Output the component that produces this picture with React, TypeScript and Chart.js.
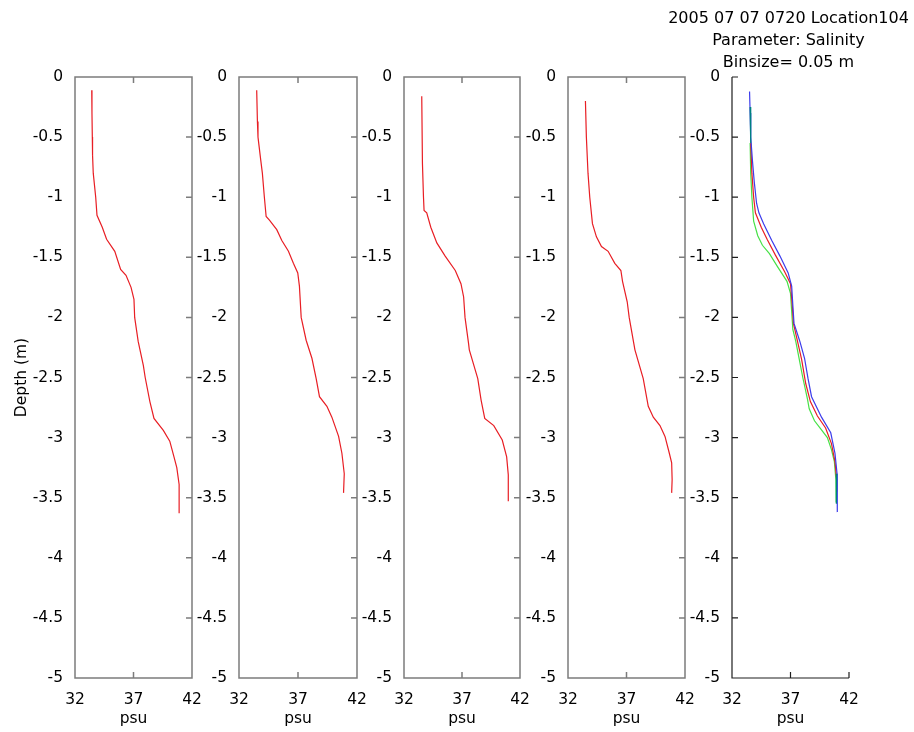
import React, { useEffect, useRef } from "react";
import { Chart, registerables } from "chart.js";

Chart.register(...registerables);

// ---------- DATA ----------
const xTicks = [32, 37, 42];
const titleLines = ["2005 07 07 0720 Location104", "Parameter: Salinity", "Binsize= 0.05 m"];
const xLabel = "psu";
const yLabel = "Depth (m)";

// Cast 1
const cast1Depth = [-0.11, -0.3, -0.5, -0.65, -0.8, -1.0, -1.15, -1.25, -1.35, -1.45, -1.6, -1.65, -1.75, -1.85, -2.0, -2.2, -2.4, -2.5, -2.7, -2.84, -2.94, -3.03, -3.16, -3.25, -3.39, -3.63];
const cast1Psu = [33.43, 33.45, 33.48, 33.5, 33.56, 33.77, 33.88, 34.33, 34.7, 35.4, 35.9, 36.36, 36.79, 37.04, 37.1, 37.4, 37.84, 38.0, 38.4, 38.75, 39.55, 40.1, 40.46, 40.7, 40.9, 40.9];

// Cast 2
const cast2Depth = [-0.11, -0.37, -0.5, -0.69, -0.8, -1.0, -1.16, -1.19, -1.27, -1.36, -1.45, -1.55, -1.63, -1.74, -2.0, -2.19, -2.34, -2.51, -2.66, -2.74, -2.83, -2.99, -3.13, -3.3, -3.46];
const cast2Psu = [33.5, 33.56, 33.61, 33.84, 33.98, 34.15, 34.3, 34.58, 35.2, 35.63, 36.19, 36.61, 36.98, 37.12, 37.27, 37.69, 38.18, 38.54, 38.82, 39.45, 39.87, 40.44, 40.72, 40.92, 40.86];

// Cast 3
const cast3Depth = [-0.16, -0.72, -1.0, -1.11, -1.13, -1.25, -1.38, -1.49, -1.61, -1.72, -1.83, -2.0, -2.22, -2.27, -2.51, -2.69, -2.84, -2.9, -3.02, -3.16, -3.31, -3.53];
const cast3Psu = [33.53, 33.59, 33.68, 33.73, 33.96, 34.31, 34.83, 35.55, 36.42, 36.91, 37.14, 37.26, 37.57, 37.63, 38.36, 38.65, 38.96, 39.74, 40.47, 40.85, 40.99, 40.99];

// Cast 4
const cast4Depth = [-0.2, -0.5, -0.8, -1.0, -1.22, -1.33, -1.41, -1.45, -1.55, -1.61, -1.7, -1.87, -2.0, -2.22, -2.27, -2.51, -2.74, -2.83, -2.9, -2.99, -3.13, -3.21, -3.35, -3.46];
const cast4Psu = [33.49, 33.57, 33.71, 33.86, 34.09, 34.43, 34.86, 35.43, 36.0, 36.52, 36.66, 37.06, 37.23, 37.63, 37.72, 38.43, 38.86, 39.29, 39.86, 40.29, 40.66, 40.86, 40.9, 40.86];

// Overlay panel
const blueDepth = [-0.12, -0.3, -0.5, -0.7, -0.87, -1.05, -1.13, -1.22, -1.36, -1.49, -1.63, -1.74, -1.9, -2.05, -2.2, -2.34, -2.51, -2.66, -2.83, -2.96, -3.13, -3.3, -3.62];
const bluePsu = [33.5, 33.55, 33.6, 33.75, 33.9, 34.1, 34.3, 34.7, 35.4, 36.1, 36.8, 37.1, 37.2, 37.3, 37.8, 38.2, 38.5, 38.8, 39.65, 40.44, 40.8, 40.98, 41.0];

const redDepth = [-0.55, -0.8, -1.0, -1.13, -1.25, -1.35, -1.48, -1.62, -1.72, -1.9, -2.05, -2.2, -2.35, -2.55, -2.7, -2.82, -2.92, -3.05, -3.2, -3.35, -3.45];
const redPsu = [33.6, 33.7, 33.85, 34.0, 34.5, 35.0, 35.7, 36.5, 37.0, 37.15, 37.25, 37.6, 37.95, 38.3, 38.7, 39.3, 40.0, 40.5, 40.8, 40.95, 40.95];

const greenDepth = [-0.55, -0.8, -1.0, -1.2, -1.32, -1.4, -1.47, -1.58, -1.7, -1.8, -1.95, -2.1, -2.2, -2.35, -2.5, -2.68, -2.76, -2.86, -2.93, -3.0, -3.1, -3.2, -3.35, -3.54];
const greenPsu = [33.55, 33.6, 33.7, 33.85, 34.2, 34.6, 35.2, 35.9, 36.7, 37.0, 37.1, 37.2, 37.45, 37.75, 38.05, 38.45, 38.6, 39.05, 39.6, 40.15, 40.5, 40.75, 40.88, 40.9];

const tealDepth = [-0.25, -0.55, null, -3.3, -3.55];
const tealPsu = [33.55, 33.6, null, 40.95, 40.92];

// ---------- LAYOUT ----------
const PAGE_W = 914;
const PAGE_H = 732;
const AXIS_W = 75;
const PLOT_TOP = 77;
const PLOT_BOTTOM = 678;
const panelLefts = [75, 239, 404, 568, 732];
const panelWidths = [117, 118, 116, 117, 117];
const FONT = { family: "'DejaVu Sans', sans-serif", size: 15.5 };

const RED = "rgb(232,30,36)";

type Series = { depth: (number | null)[]; psu: (number | null)[]; color: string };

function makeFrame(boxed: boolean, title?: string[]) {
  return {
    id: "frame" + (boxed ? "Box" : "Axes"),
    afterDraw(chart: any) {
      const { ctx, chartArea: a, scales } = chart;
      const xs = scales.x;
      const ys = scales.y;
      ctx.save();
      ctx.strokeStyle = boxed ? "#7c7c7c" : "#1e1e1e";
      ctx.lineWidth = boxed ? 1.5 : 1.2;
      ctx.beginPath();
      if (boxed) {
        ctx.rect(a.left, a.top, a.right - a.left, a.bottom - a.top);
      } else {
        ctx.moveTo(a.left, a.top);
        ctx.lineTo(a.left, a.bottom);
        ctx.lineTo(a.right, a.bottom);
      }
      const T = 6;
      xs.ticks.forEach((t: any) => {
        const px = xs.getPixelForValue(t.value);
        ctx.moveTo(px, a.bottom);
        ctx.lineTo(px, a.bottom - T);
        if (boxed) {
          ctx.moveTo(px, a.top);
          ctx.lineTo(px, a.top + T);
        }
      });
      ys.ticks.forEach((t: any) => {
        const py = ys.getPixelForValue(t.value);
        if (boxed) {
          ctx.moveTo(a.right, py);
          ctx.lineTo(a.right - T, py);
        } else {
          ctx.moveTo(a.left, py);
          ctx.lineTo(a.left + T, py);
        }
      });
      ctx.stroke();
      if (title) {
        ctx.fillStyle = "#000";
        ctx.font = "16px 'DejaVu Sans', sans-serif";
        ctx.textAlign = "center";
        ctx.textBaseline = "alphabetic";
        const cx = (a.left + a.right) / 2 - 2;
        const baselines = [22.5, 44.5, 66.5];
        title.forEach((line, i) => ctx.fillText(line, cx, baselines[i]));
      }
      ctx.restore();
    },
  };
}

function Panel({ idx, series, boxed, showYTitle, title }: { idx: number; series: Series[]; boxed: boolean; showYTitle?: boolean; title?: string[] }) {
  const ref = useRef<HTMLCanvasElement>(null);
  const left = panelLefts[idx] - AXIS_W;
  const pw = panelWidths[idx];
  const width = idx === panelLefts.length - 1 ? PAGE_W - left : AXIS_W + pw + 16;

  useEffect(() => {
    if (!ref.current) return;
    const chart = new Chart(ref.current, {
      type: "scatter",
      data: {
        datasets: series.map((s) => ({
          data: s.depth.map((y, i) => ({ x: s.psu[i] as any, y: y as any })),
          borderColor: s.color,
          backgroundColor: s.color,
          borderWidth: 1.2,
          showLine: true,
          pointRadius: 0,
          pointHoverRadius: 0,
          fill: false,
          tension: 0,
          spanGaps: false,
        })),
      },
      options: {
        responsive: false,
        animation: false,
        devicePixelRatio: 1,
        events: [],
        layout: {
          padding: { left: 0, top: PLOT_TOP, right: width - AXIS_W - pw, bottom: PAGE_H - PLOT_BOTTOM - 50 },
        },
        plugins: {
          legend: { display: false },
          tooltip: { enabled: false },
          title: { display: false },
        },
        scales: {
          x: {
            type: "linear",
            position: "bottom",
            min: xTicks[0],
            max: xTicks[xTicks.length - 1],
            grid: { display: false },
            border: { display: false },
            afterBuildTicks: (s: any) => {
              s.ticks = xTicks.map((v) => ({ value: v }));
            },
            ticks: { color: "#000", font: FONT, padding: 5, maxRotation: 0, autoSkip: false },
            title: { display: true, text: xLabel, color: "#000", font: FONT, padding: { top: 0, bottom: 0 } },
            afterFit: (s: any) => {
              s.height = 50;
            },
          },
          y: {
            type: "linear",
            position: "left",
            min: -5,
            max: 0,
            grid: { display: false },
            border: { display: false },
            ticks: {
              stepSize: 0.5,
              autoSkip: false,
              color: "#000",
              font: FONT,
              padding: 4,
              callback: (v: any) => String(+Number(v).toFixed(2)),
            },
            title: { display: !!showYTitle, text: yLabel, color: "#000", font: FONT, padding: { top: 12.7, bottom: 0 } },
            afterFit: (s: any) => {
              s.width = AXIS_W;
            },
          },
        },
      } as any,
      plugins: [makeFrame(boxed, title)],
    });
    return () => chart.destroy();
  }, []);

  return (
    <canvas
      ref={ref}
      width={width}
      height={PAGE_H}
      style={{ position: "absolute", left, top: 0, width, height: PAGE_H }}
    />
  );
}

export default function App() {
  return (
    <div style={{ position: "absolute", left: 0, top: 0, width: PAGE_W, height: PAGE_H, background: "#fff", overflow: "hidden" }}>
      <Panel idx={0} boxed showYTitle series={[{ depth: cast1Depth, psu: cast1Psu, color: RED }]} />
      <Panel idx={1} boxed series={[{ depth: cast2Depth, psu: cast2Psu, color: RED }]} />
      <Panel idx={2} boxed series={[{ depth: cast3Depth, psu: cast3Psu, color: RED }]} />
      <Panel idx={3} boxed series={[{ depth: cast4Depth, psu: cast4Psu, color: RED }]} />
      <Panel
        idx={4}
        boxed={false}
        title={titleLines}
        series={[
          { depth: tealDepth, psu: tealPsu, color: "rgb(0,128,128)" },
          { depth: blueDepth, psu: bluePsu, color: "rgb(60,60,235)" },
          { depth: redDepth, psu: redPsu, color: RED },
          { depth: greenDepth, psu: greenPsu, color: "rgb(70,225,70)" },
        ]}
      />
    </div>
  );
}
